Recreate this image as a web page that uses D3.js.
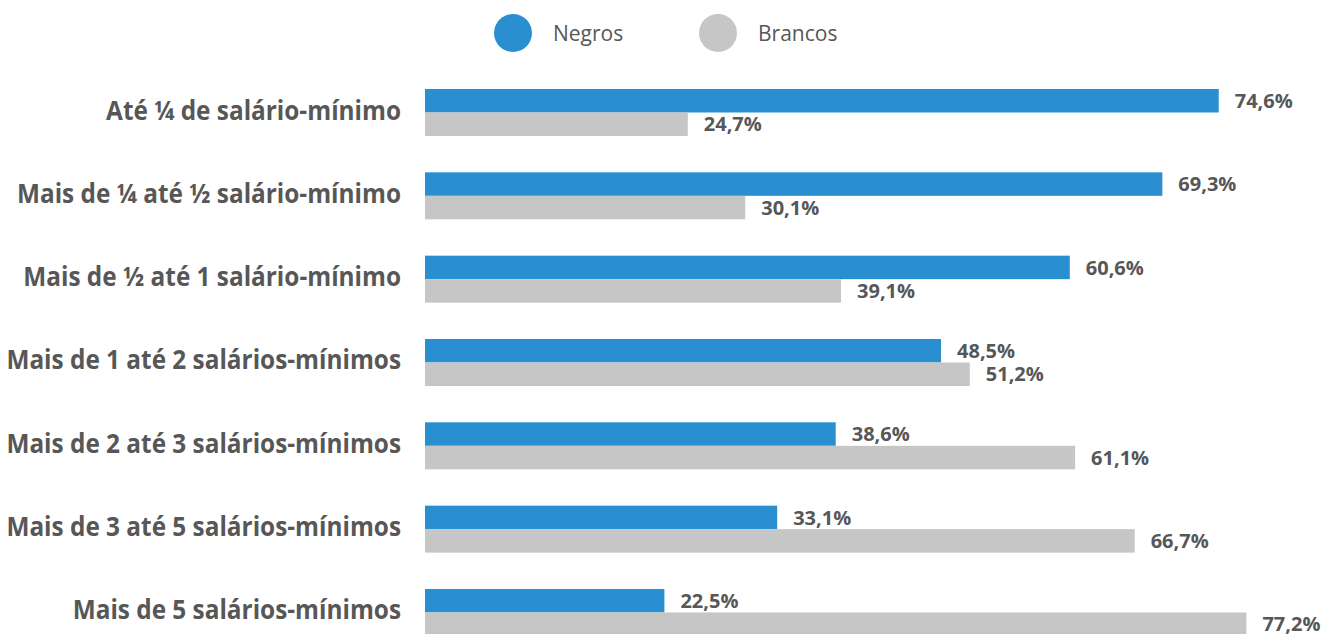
<!DOCTYPE html>
<html>
<head>
<meta charset="utf-8">
<script src="https://cdn.jsdelivr.net/npm/d3@7"></script>
<style>
  body { margin: 0; background: #fff; }
  svg { display: block; }
</style>
</head>
<body>
<div class="canvas"></div>
<script>
// chart data
var categories = [
    "Até ¼ de salário-mínimo",
    "Mais de ¼ até ½ salário-mínimo",
    "Mais de ½ até 1 salário-mínimo",
    "Mais de 1 até 2 salários-mínimos",
    "Mais de 2 até 3 salários-mínimos",
    "Mais de 3 até 5 salários-mínimos",
    "Mais de 5 salários-mínimos"
];
var seriesNames = ["Negros", "Brancos"];
var negros = [74.6, 69.3, 60.6, 48.5, 38.6, 33.1, 22.5];
var brancos = [24.7, 30.1, 39.1, 51.2, 61.1, 66.7, 77.2];

var width = 1324;
var height = 634;
var colors = { Negros: "#2a8fd1", Brancos: "#c6c6c6" };
var textColor = "#575757";

var svg = d3.select(".canvas").append("svg")
    .attr("width", width)
    .attr("height", height);

var x = d3.scaleLinear()
    .domain([0, 100])
    .range([425, 1489]);

var y = d3.scaleBand()
    .domain(categories)
    .range([81, 81 + 7 * 83.33]);

var inner = d3.scaleBand()
    .domain(seriesNames)
    .range([8, 55]);

var rows = categories.map((c, i) => ({ cat: c, Negros: negros[i], Brancos: brancos[i] }));

var groups = svg.append("g")
    .selectAll("g")
    .data(rows)
    .enter().append("g")
    .attr("transform", d => "translate(0," + y(d.cat) + ")");

// category labels (squeezed a bit to look like a condensed face)
groups.append("text")
    .attr("transform", "translate(401," + (inner.range()[0] + inner.bandwidth() + 7) + ") scale(0.937,1)")
    .attr("text-anchor", "end")
    .style("font-family", "'Open Sans', sans-serif")
    .style("font-weight", "bold")
    .style("font-size", "26px")
    .style("fill", textColor)
    .text(d => d.cat);

var bars = groups.selectAll("rect")
    .data(d => seriesNames.map(s => ({ s: s, v: d[s] })))
    .enter();

bars.append("rect")
    .attr("x", x(0))
    .attr("y", d => inner(d.s))
    .attr("width", d => x(d.v) - x(0))
    .attr("height", inner.bandwidth())
    .style("fill", d => colors[d.s]);

bars.append("text")
    .attr("x", d => x(d.v) + 16)
    .attr("y", d => inner(d.s) + inner.bandwidth() / 2)
    .attr("dy", "0.36em")
    .style("font-family", "'Open Sans', sans-serif")
    .style("font-weight", "bold")
    .style("font-size", "20px")
    .style("fill", textColor)
    .text(d => d.v.toFixed(1).replace(".", ",") + "%");

// legend
var legend = svg.append("g")
    .selectAll("g")
    .data(seriesNames)
    .enter().append("g")
    .attr("transform", (d, i) => "translate(" + (513 + i * 205) + ",33)");

legend.append("circle")
    .attr("r", 19)
    .style("fill", d => colors[d]);

legend.append("text")
    .attr("x", 40)
    .attr("dy", "0.36em")
    .style("font-family", "'Open Sans', sans-serif")
    .style("font-size", "21px")
    .style("fill", textColor)
    .text(d => d);
</script>
</body>
</html>
